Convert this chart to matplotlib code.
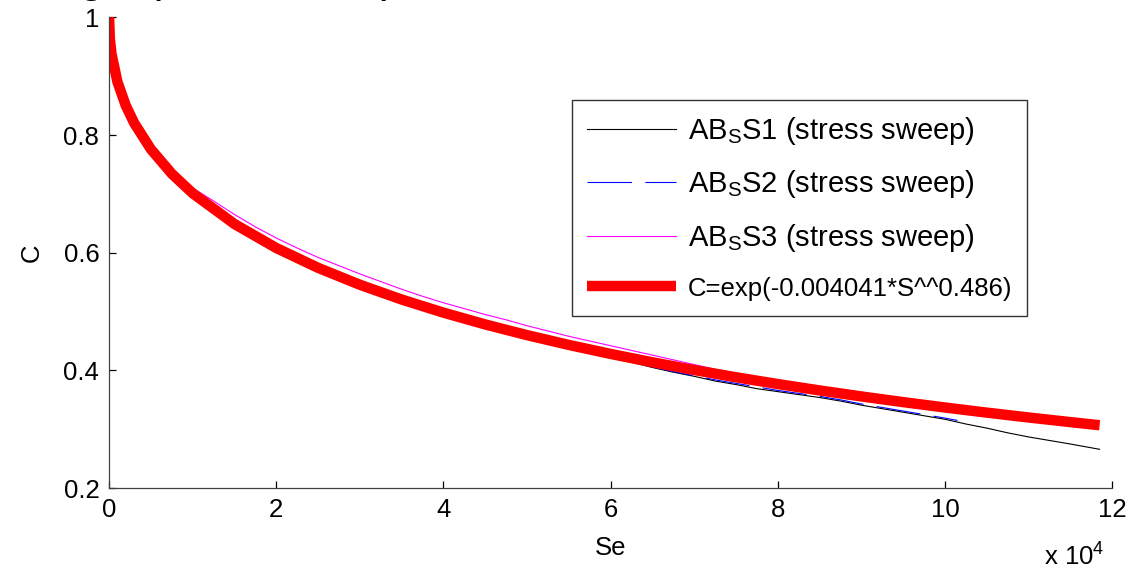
import numpy as np
import matplotlib
matplotlib.use("Agg")
import matplotlib.pyplot as plt
from matplotlib.ticker import FuncFormatter

plt.rcParams['font.family'] = ['Liberation Sans', 'DejaVu Sans']
plt.rcParams['mathtext.fontset'] = 'custom'
plt.rcParams['mathtext.rm'] = 'Liberation Sans'
plt.rcParams['mathtext.it'] = 'Liberation Sans:italic'

# stress sweep test 1
s1 = [0, 1000, 3000, 5000, 7500, 10000, 15000, 20000, 25000, 30000, 35000,
      40000, 45000, 50000, 55000, 60000, 62500, 65000, 67500, 70000, 72500,
      75000, 77500, 80000, 82500, 85000, 87500, 90000, 92500, 95000, 97500,
      100000, 102500, 105000, 107500, 110000, 112500, 115000, 118500]
c1 = [1.0, 0.890, 0.820, 0.776, 0.734, 0.701, 0.649, 0.607, 0.573, 0.545, 0.519,
      0.497, 0.477, 0.459, 0.441, 0.423, 0.414, 0.405, 0.397, 0.390, 0.382,
      0.376, 0.369, 0.364, 0.359, 0.354, 0.348, 0.341, 0.335, 0.329, 0.323,
      0.317, 0.309, 0.302, 0.294, 0.287, 0.281, 0.275, 0.266]

# stress sweep test 2
s2 = [0, 1000, 5000, 10000, 20000, 30000, 40000, 50000, 55000, 60000, 62500,
      65000, 67500, 70000, 72500, 75000, 77500, 80000, 82500, 85000, 87500,
      90000, 92500, 95000, 97500, 100000, 101500]
c2 = [1.0, 0.890, 0.775, 0.700, 0.607, 0.545, 0.497, 0.458, 0.440, 0.422, 0.414,
      0.406, 0.398, 0.391, 0.384, 0.378, 0.372, 0.366, 0.361, 0.356, 0.350,
      0.343, 0.337, 0.331, 0.325, 0.319, 0.315]

# stress sweep test 3
s3 = [0, 1000, 3000, 5000, 7500, 10000, 12500, 15000, 17500, 20000, 22500,
      25000, 27500, 30000, 32500, 35000, 37500, 40000, 42500, 45000, 47500,
      50000, 52500, 55000, 57500, 60000, 62500, 65000, 67500, 70000, 72500,
      75000, 77500, 80000]
c3 = [1.0, 0.890, 0.822, 0.779, 0.739, 0.710, 0.688, 0.665, 0.644, 0.625, 0.608,
      0.592, 0.578, 0.564, 0.551, 0.538, 0.526, 0.515, 0.505, 0.495, 0.486,
      0.476, 0.467, 0.458, 0.450, 0.442, 0.434, 0.426, 0.418, 0.410, 0.402,
      0.395, 0.387, 0.380]

# fitted damage curve C = exp(-a * S^b)
fit_a = 0.004041
fit_b = 0.486
s_fit = [0, 100, 300, 1000, 2000, 3000, 5000, 7500, 10000, 15000, 20000,
         25000, 30000, 35000, 40000, 45000, 50000, 55000, 60000, 65000, 70000,
         75000, 80000, 85000, 90000, 95000, 100000, 105000, 110000, 115000,
         118500]
c_fit = np.exp(-fit_a * np.array(s_fit, dtype=float) ** fit_b)

fig = plt.figure(figsize=(11.36, 5.77), dpi=100)
ax = fig.add_axes([0.096, 0.154, 0.883, 0.816])

ax.plot(s1, c1, color='black', lw=0.8, label=r'AB$_\mathrm{S}$S1 (stress sweep)')
ax.plot(s2, c2, color='blue', lw=0.8, linestyle=(0, (40, 12)),
        label=r'AB$_\mathrm{S}$S2 (stress sweep)')
ax.plot(s3, c3, color='magenta', lw=0.8, label=r'AB$_\mathrm{S}$S3 (stress sweep)')
ax.plot(s_fit, c_fit, color='red', lw=7.5, solid_capstyle='butt',
        label='C=exp(-0.004041*S^^0.486)')

ax.set_xlim(0, 120000)
ax.set_ylim(0.2, 1.0)
ax.set_xticks(np.arange(0, 120001, 20000))
ax.set_yticks([0.2, 0.4, 0.6, 0.8, 1.0])
ax.xaxis.set_major_formatter(FuncFormatter(lambda v, p: '%d' % round(v / 1e4)))
ax.yaxis.set_major_formatter(FuncFormatter(lambda v, p: '%g' % round(v, 1)))

for side in ['top', 'right']:
    ax.spines[side].set_visible(False)
for side in ['left', 'bottom']:
    ax.spines[side].set_color('#404040')
    ax.spines[side].set_linewidth(0.9)
ax.tick_params(direction='in', length=5, width=0.9, labelsize=18.5, pad=7,
               color='black')

ax.set_xlabel('Se', fontsize=18.5, labelpad=10)
ax.set_ylabel('C', fontsize=18.5, labelpad=14)
fig.text(0.919, 0.02, r'x 10$^4$', fontsize=18.5)

leg = ax.legend(loc='upper right', bbox_to_anchor=(0.915, 0.824), borderaxespad=0,
                fontsize=21, handlelength=3.05, handletextpad=0.42,
                labelspacing=0.74, borderpad=0.5, fancybox=False)
leg.get_texts()[3].set_fontsize(18.5)
leg.get_frame().set_edgecolor('black')
leg.get_frame().set_linewidth(1.0)

# slide heading, mostly outside the exported area
fig.text(-0.0148, 1.013, 'Fitting a power\u2013law parameter', fontsize=32, va='baseline')

fig.savefig('out.png', dpi=100)
